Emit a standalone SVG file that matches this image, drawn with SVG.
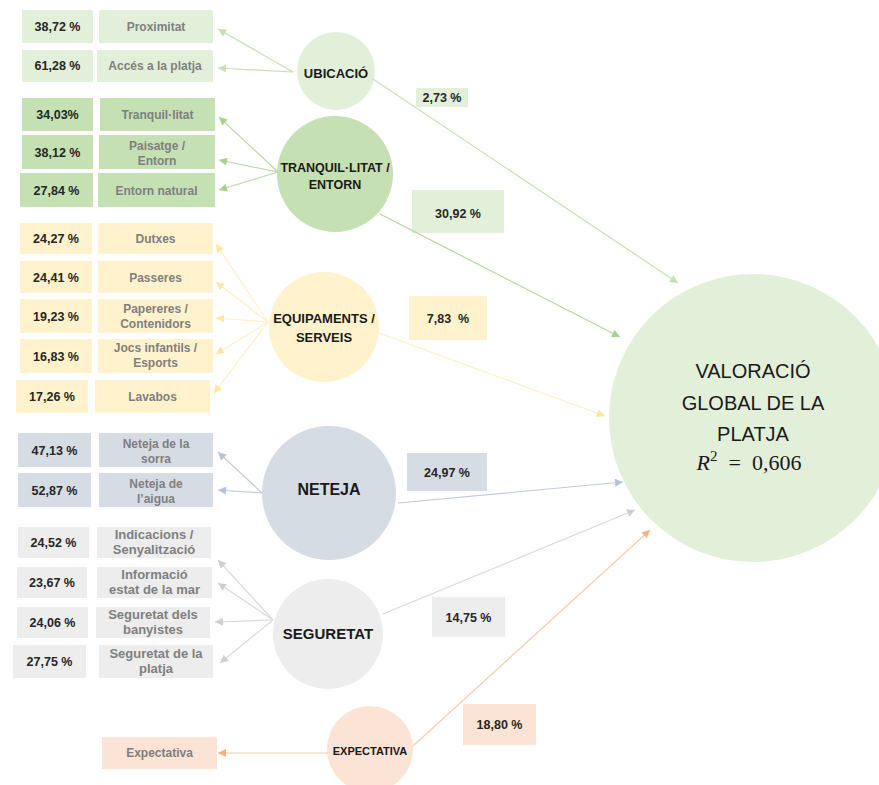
<svg xmlns="http://www.w3.org/2000/svg" width="879" height="785" viewBox="0 0 879 785">
<style>
.pct{font-family:"Liberation Sans",Arial,sans-serif;font-weight:bold;font-size:12.5px;fill:#262626;text-anchor:middle}
.lbl{font-family:"Liberation Sans",Arial,sans-serif;font-weight:bold;font-size:12px;fill:#7f7f7f;text-anchor:middle}
.lbl13{font-size:13px}
.node{font-family:"Liberation Sans",Arial,sans-serif;font-weight:bold;fill:#1a1a1a;text-anchor:middle}
.big{font-family:"Liberation Sans",Arial,sans-serif;font-size:20px;fill:#1a1a1a;text-anchor:middle}
.g1{fill:#e2efd9}.g2{fill:#c5e0b3}.g3{fill:#fff2cc}.g4{fill:#d6dce4}.g5{fill:#ededed}.g6{fill:#fbe4d5}
.c line{stroke-width:1.2;fill:none}
</style>
<defs>
<marker id="m1" viewBox="0 0 10 10" refX="10" refY="5" markerUnits="userSpaceOnUse" markerWidth="10" markerHeight="8" orient="auto"><path d="M0,0L10,5L0,10z" fill="#c5e0b3"/></marker>
<marker id="m2" viewBox="0 0 10 10" refX="10" refY="5" markerUnits="userSpaceOnUse" markerWidth="10" markerHeight="8" orient="auto"><path d="M0,0L10,5L0,10z" fill="#a9d18e"/></marker>
<marker id="m3" viewBox="0 0 10 10" refX="10" refY="5" markerUnits="userSpaceOnUse" markerWidth="10" markerHeight="8" orient="auto"><path d="M0,0L10,5L0,10z" fill="#ffe699"/></marker>
<marker id="m4" viewBox="0 0 10 10" refX="10" refY="5" markerUnits="userSpaceOnUse" markerWidth="10" markerHeight="8" orient="auto"><path d="M0,0L10,5L0,10z" fill="#b8c2d8"/></marker>
<marker id="m5" viewBox="0 0 10 10" refX="10" refY="5" markerUnits="userSpaceOnUse" markerWidth="10" markerHeight="8" orient="auto"><path d="M0,0L10,5L0,10z" fill="#cfcfcf"/></marker>
<marker id="m6" viewBox="0 0 10 10" refX="10" refY="5" markerUnits="userSpaceOnUse" markerWidth="10" markerHeight="8" orient="auto"><path d="M0,0L10,5L0,10z" fill="#f4b183"/></marker>
</defs>
<rect width="879" height="785" fill="#ffffff"/>

<g id="valoracio">
<circle cx="753" cy="418" r="144" class="g1"/>
<text class="big" x="753" y="378">VALORACIÓ</text>
<text class="big" x="753" y="410">GLOBAL DE LA</text>
<text class="big" x="753" y="441">PLATJA</text>
<text x="749" y="470" style="font-family:'Liberation Serif',serif;font-size:22px;fill:#1a1a1a;text-anchor:middle" xml:space="preserve"><tspan font-style="italic">R</tspan><tspan font-size="15" dy="-9">2</tspan><tspan dy="9">  =  0,606</tspan></text>
</g>

<g id="ubicacio">
<circle cx="336" cy="71" r="39" class="g1"/>
<text class="node" x="336" y="78" font-size="13">UBICACIÓ</text>
<rect class="g1" x="22" y="10" width="71" height="33"/><text class="pct" x="57.5" y="31">38,72 %</text>
<rect class="g1" x="99" y="10" width="114" height="33"/><text class="lbl" x="156" y="31">Proximitat</text>
<rect class="g1" x="22" y="50" width="71" height="32"/><text class="pct" x="57.5" y="70">61,28 %</text>
<rect class="g1" x="97" y="50" width="116" height="32"/><text class="lbl" x="155" y="70">Accés a la platja</text>
<rect class="g1" x="416" y="88" width="52" height="19"/><text class="pct" x="442" y="102" font-size="12">2,73 %</text>
</g>

<g id="tranquil">
<circle cx="335" cy="174" r="58" class="g2"/>
<text class="node" x="335" y="172" font-size="12.5">TRANQUIL·LITAT /</text>
<text class="node" x="335" y="189" font-size="12.5">ENTORN</text>
<rect class="g2" x="22" y="98" width="71" height="33"/><text class="pct" x="57.5" y="119">34,03%</text>
<rect class="g2" x="100" y="98" width="115" height="33"/><text class="lbl" x="157.5" y="119">Tranquil·litat</text>
<rect class="g2" x="22" y="135" width="71" height="34"/><text class="pct" x="57.5" y="157">38,12 %</text>
<rect class="g2" x="99" y="135" width="116" height="34"/><text class="lbl" x="157" y="150">Paisatge /</text><text class="lbl" x="157" y="165">Entorn</text>
<rect class="g2" x="20" y="173" width="73" height="34"/><text class="pct" x="56.5" y="195">27,84 %</text>
<rect class="g2" x="98" y="173" width="117" height="34"/><text class="lbl" x="156.5" y="195">Entorn natural</text>
<rect class="g1" x="412" y="190" width="92" height="43"/><text class="pct" x="458" y="218" font-size="16">30,92 %</text>
</g>

<g id="equipaments">
<circle cx="324" cy="327" r="55" class="g3"/>
<text class="node" x="324" y="323" font-size="13">EQUIPAMENTS /</text>
<text class="node" x="324" y="342" font-size="13">SERVEIS</text>
<rect class="g3" x="20" y="223" width="72" height="31"/><text class="pct" x="56" y="243">24,27 %</text>
<rect class="g3" x="98" y="223" width="115" height="31"/><text class="lbl" x="155.5" y="243">Dutxes</text>
<rect class="g3" x="20" y="261" width="72" height="32"/><text class="pct" x="56" y="281.5">24,41 %</text>
<rect class="g3" x="98" y="261" width="115" height="32"/><text class="lbl" x="155.5" y="281.5">Passeres</text>
<rect class="g3" x="20" y="299" width="72" height="34"/><text class="pct" x="56" y="320.5">19,23 %</text>
<rect class="g3" x="98" y="299" width="115" height="34"/><text class="lbl" x="155.5" y="313">Papereres /</text><text class="lbl" x="155.5" y="328">Contenidors</text>
<rect class="g3" x="20" y="339" width="72" height="34"/><text class="pct" x="56" y="360.5">16,83 %</text>
<rect class="g3" x="98" y="339" width="115" height="34"/><text class="lbl" x="155.5" y="352">Jocs infantils /</text><text class="lbl" x="155.5" y="367">Esports</text>
<rect class="g3" x="16" y="380" width="72" height="33"/><text class="pct" x="52" y="401">17,26 %</text>
<rect class="g3" x="95" y="380" width="115" height="33"/><text class="lbl" x="152.5" y="401">Lavabos</text>
<rect class="g3" x="409" y="296" width="78" height="44"/><text class="pct" x="448" y="323" font-size="14" xml:space="preserve">7,83  %</text>
</g>

<g id="neteja">
<circle cx="329" cy="493" r="67" class="g4"/>
<text class="node" x="329" y="495" font-size="16">NETEJA</text>
<rect class="g4" x="18" y="433" width="73" height="34"/><text class="pct" x="54.5" y="454.5">47,13 %</text>
<rect class="g4" x="99" y="433" width="114" height="34"/><text class="lbl" x="156" y="448">Neteja de la</text><text class="lbl" x="156" y="463">sorra</text>
<rect class="g4" x="18" y="473" width="73" height="34"/><text class="pct" x="54.5" y="494.5">52,87 %</text>
<rect class="g4" x="99" y="473" width="114" height="34"/><text class="lbl" x="156" y="488">Neteja de</text><text class="lbl" x="156" y="503">l’aigua</text>
<rect class="g4" x="407" y="453" width="80" height="38"/><text class="pct" x="447" y="477" font-size="15">24,97 %</text>
</g>

<g id="seguretat">
<circle cx="328" cy="634" r="55" class="g5"/>
<text class="node" x="328" y="639" font-size="15">SEGURETAT</text>
<rect class="g5" x="18" y="527" width="71" height="31"/><text class="pct" x="53.5" y="547">24,52 %</text>
<rect class="g5" x="97" y="527" width="114" height="31"/><text class="lbl lbl13" x="154" y="539">Indicacions /</text><text class="lbl lbl13" x="154" y="554">Senyalització</text>
<rect class="g5" x="17" y="567" width="70" height="31"/><text class="pct" x="52" y="587">23,67 %</text>
<rect class="g5" x="97" y="567" width="115" height="31"/><text class="lbl lbl13" x="154.5" y="579">Informació</text><text class="lbl lbl13" x="154.5" y="594">estat de la mar</text>
<rect class="g5" x="17" y="607" width="71" height="31"/><text class="pct" x="52.5" y="627">24,06 %</text>
<rect class="g5" x="96" y="607" width="114" height="31"/><text class="lbl lbl13" x="153" y="619">Seguretat dels</text><text class="lbl lbl13" x="153" y="634">banyistes</text>
<rect class="g5" x="13" y="645" width="73" height="33"/><text class="pct" x="49.5" y="666">27,75 %</text>
<rect class="g5" x="99" y="645" width="114" height="33"/><text class="lbl lbl13" x="156" y="658">Seguretat de la</text><text class="lbl lbl13" x="156" y="673">platja</text>
<rect class="g5" x="432" y="597" width="73" height="40"/><text class="pct" x="468.5" y="622" font-size="14">14,75 %</text>
</g>

<g id="expectativa">
<circle cx="370" cy="749" r="43" class="g6"/>
<text class="node" x="370" y="755" font-size="11">EXPECTATIVA</text>
<rect class="g6" x="102" y="737" width="115" height="32"/><text class="lbl" x="159.5" y="757">Expectativa</text>
<rect class="g6" x="463" y="704" width="73" height="41"/><text class="pct" x="499.5" y="729" font-size="14">18,80 %</text>
</g>

<g id="connectors" class="c">
<line x1="293" y1="72" x2="218" y2="29" stroke="#c5e0b3" marker-end="url(#m1)"/>
<line x1="293" y1="72" x2="218" y2="68" stroke="#c5e0b3" marker-end="url(#m1)"/>
<line x1="373" y1="79" x2="678" y2="283" stroke="#c5e0b3" marker-end="url(#m1)"/>
<line x1="278" y1="172" x2="219" y2="117" stroke="#bcdaa6" marker-end="url(#m2)"/>
<line x1="278" y1="172" x2="219" y2="160" stroke="#bcdaa6" marker-end="url(#m2)"/>
<line x1="278" y1="172" x2="219" y2="190" stroke="#bcdaa6" marker-end="url(#m2)"/>
<line x1="380" y1="214" x2="620" y2="337" stroke="#b5d69c" marker-end="url(#m2)"/>
<line x1="268" y1="322" x2="216" y2="244" stroke="#fff0c2" marker-end="url(#m3)"/>
<line x1="268" y1="322" x2="216" y2="282" stroke="#fff0c2" marker-end="url(#m3)"/>
<line x1="268" y1="322" x2="216" y2="318" stroke="#fff0c2" marker-end="url(#m3)"/>
<line x1="268" y1="322" x2="216" y2="354" stroke="#fff0c2" marker-end="url(#m3)"/>
<line x1="268" y1="322" x2="214" y2="393" stroke="#fff0c2" marker-end="url(#m3)"/>
<line x1="379" y1="333" x2="605" y2="416" stroke="#fff0c2" marker-end="url(#m3)"/>
<line x1="262" y1="493" x2="218" y2="452" stroke="#c3cadb" marker-end="url(#m4)"/>
<line x1="262" y1="493" x2="218" y2="490" stroke="#c3cadb" marker-end="url(#m4)"/>
<line x1="398" y1="503" x2="623" y2="482" stroke="#c3cadb" marker-end="url(#m4)"/>
<line x1="273" y1="620" x2="218" y2="560" stroke="#d9d9d9" marker-end="url(#m5)"/>
<line x1="273" y1="620" x2="218" y2="583" stroke="#d9d9d9" marker-end="url(#m5)"/>
<line x1="273" y1="620" x2="215" y2="622" stroke="#d9d9d9" marker-end="url(#m5)"/>
<line x1="273" y1="620" x2="220" y2="663" stroke="#d9d9d9" marker-end="url(#m5)"/>
<line x1="383" y1="614" x2="635" y2="510" stroke="#d9d9d9" marker-end="url(#m5)"/>
<line x1="328" y1="753" x2="218" y2="753" stroke="#f8cbad" marker-end="url(#m6)"/>
<line x1="413" y1="746" x2="650" y2="530" stroke="#f8cbad" marker-end="url(#m6)"/>
</g>
</svg>
